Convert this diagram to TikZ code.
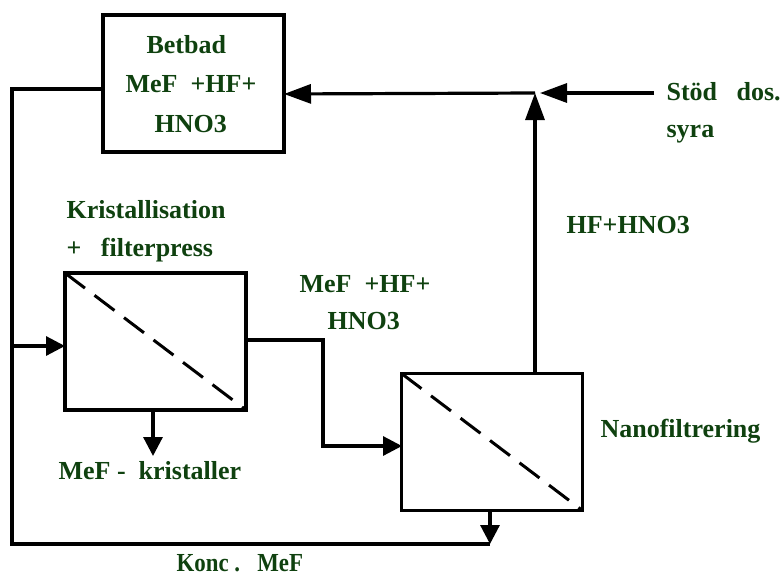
\documentclass[tikz,border=0pt]{standalone}
\usepackage{fontspec}
\setmainfont{Liberation Serif}
\usetikzlibrary{arrows.meta}
\definecolor{lbl}{RGB}{15,65,15}
\begin{document}
\begin{tikzpicture}[x=1pt,y=-1pt,line width=3.2pt,
  box/.style={draw,rectangle,minimum width=181pt,minimum height=137pt,inner sep=0pt,outer sep=0pt},
  diag/.style={line width=3pt,dash pattern=on 25pt off 12pt},
  lab/.style={anchor=base west,inner sep=0pt,text=lbl,font=\fontsize{26}{30}\selectfont\bfseries},
  flow/.style={-{Triangle[length=27pt,width=19pt]}},
  sflow/.style={-{Triangle[length=19pt,width=19pt]}}]
\useasboundingbox (0,0) rectangle (782,576);
% boxes
\node[box] (bet) at (193.5,83.5) {};
\node[box] (kris) at (155.5,341.5) {};
\node[box] (nano) at (492,442) {};
\draw[diag] (kris.north west) -- (kris.south east);
\draw[diag] (nano.north west) -- (nano.south east);
% coordinates
\coordinate (betL) at (103,89);
\coordinate (c1) at (12,89);
\coordinate (c2) at (12,544);
\coordinate (krisIn) at (12,346);
\coordinate (j2) at (490,544);
\coordinate (nanoB) at (490,510);
\coordinate (krisR) at (246,340);
\coordinate (d1) at (323,340);
\coordinate (d2) at (323,446);
\coordinate (nanoIn) at (402,446);
\coordinate (krisB) at (153,410);
\coordinate (krisOut) at (153,456);
\coordinate (nanoT) at (535,374);
\coordinate (j1) at (535,93);
\coordinate (j1r) at (540,93);
\coordinate (stod) at (654,93);
\coordinate (betR) at (284,94);
% connectors
\draw (betL) -- (c1) -- (c2) -- (j2);
\draw[sflow] (krisIn) -- (kris.west |- krisIn);
\draw[sflow] (nanoB) -- (j2);
\draw[sflow] (krisR) -- (d1) -- (d2) -- (nanoIn);
\draw[sflow] (krisB) -- (krisOut);
\draw[flow] (nanoT) -- (j1);
\draw[flow] (stod) -- (j1r);
\draw[flow] (j1) -- (bet.east |- betR);
% labels
\node[lab] (t1) at (145,53) {Betbad};
\node[lab] (t2) at (124,92) {MeF\ \ +HF+};
\node[lab] (t3) at (153,132) {HNO3};
\node[lab] (t4) at (65,218) {Kristallisation};
\node[lab] (t5) at (65,256) {+\ \ \ filterpress};
\node[lab] (t6) at (298,292) {MeF\ \ +HF+};
\node[lab] (t7) at (326,329) {HNO3};
\node[lab] (t8) at (665,100) {Stöd\ \ \ dos.};
\node[lab] (t9) at (665,137) {syra};
\node[lab] (t10) at (565,233) {HF+HNO3};
\node[lab] (t11) at (599,437) {Nanofiltrering};
\node[lab] (t12) at (57,479) {MeF -\ \ kristaller};
\node[lab] (t13) at (175,571) {\scalebox{0.88}[1]{Konc .\ \ \ MeF}};
\end{tikzpicture}
\end{document}
